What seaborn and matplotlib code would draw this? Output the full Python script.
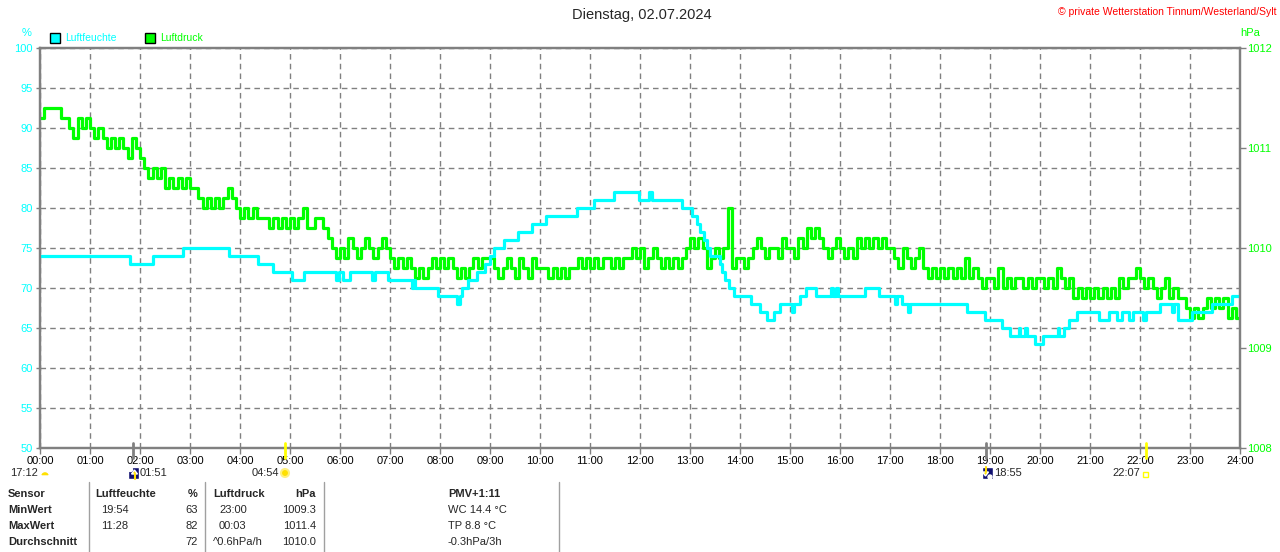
import numpy as np
import matplotlib
matplotlib.use("Agg")
import matplotlib.pyplot as plt
import seaborn as sns
from matplotlib.patches import Rectangle, Wedge, Circle, Polygon
from matplotlib.lines import Line2D
from matplotlib.transforms import IdentityTransform

sns.set_style("white")
plt.rcParams['font.family'] = ['Liberation Sans', 'DejaVu Sans']

CYAN = "#00FFFF"
GREEN = "#00FF00"
GRAY = "#808080"
NAVY = "#101070"

# Luftfeuchte (%) as step changes: hour of change, new value
hum_hours = [0.00, 1.80, 2.25, 2.85, 3.77, 4.36, 4.65, 5.04, 5.27, 5.92,
             5.98, 6.05, 6.20, 6.63, 6.70, 6.96, 7.43, 7.47, 7.50, 7.96,
             8.33, 8.40, 8.45, 8.55, 8.73, 8.90, 9.00, 9.07, 9.27, 9.55,
             9.83, 10.12, 10.74, 11.07, 11.47, 11.97, 12.18, 12.24, 12.83, 13.03,
             13.13, 13.20, 13.27, 13.33, 13.40, 13.60, 13.63, 13.70, 13.77, 13.87,
             14.21, 14.40, 14.53, 14.67, 14.80, 15.03, 15.07, 15.20, 15.32, 15.52,
             15.82, 15.86, 15.92, 15.96, 16.50, 16.77, 17.10, 17.13, 17.23, 17.35,
             17.40, 18.53, 18.90, 19.23, 19.40, 19.57, 19.60, 19.70, 19.73, 19.90,
             20.05, 20.35, 20.38, 20.47, 20.57, 20.73, 21.17, 21.37, 21.53, 21.63,
             21.78, 21.85, 22.05, 22.12, 22.40, 22.63, 22.67, 22.76, 23.03, 23.43,
             23.83, 24.00]
hum_values = [74, 73, 74, 75, 74, 73, 72, 71, 72, 71,
              72, 71, 72, 71, 72, 71, 70, 71, 70, 69,
              68, 69, 70, 71, 72, 73, 74, 75, 76, 77,
              78, 79, 80, 81, 82, 81, 82, 81, 80, 79,
              78, 77, 76, 75, 74, 73, 72, 71, 70, 69,
              68, 67, 66, 67, 68, 67, 68, 69, 70, 69,
              70, 69, 70, 69, 70, 69, 68, 69, 68, 67,
              68, 67, 66, 65, 64, 65, 64, 65, 64, 63,
              64, 65, 64, 65, 66, 67, 66, 67, 66, 67,
              66, 67, 66, 67, 68, 67, 68, 66, 67, 68,
              69, 69]

# Luftdruck (hPa), every 5 minutes, one row per hour
pressure_rows = [
    [1011.3, 1011.4, 1011.4, 1011.4, 1011.4, 1011.3, 1011.3, 1011.2, 1011.1, 1011.3, 1011.2, 1011.3],
    [1011.2, 1011.1, 1011.2, 1011.1, 1011.0, 1011.1, 1011.0, 1011.1, 1011.0, 1010.9, 1011.1, 1011.0],
    [1010.9, 1010.8, 1010.7, 1010.8, 1010.7, 1010.8, 1010.6, 1010.7, 1010.6, 1010.7, 1010.6, 1010.7],
    [1010.6, 1010.6, 1010.5, 1010.4, 1010.5, 1010.4, 1010.5, 1010.4, 1010.5, 1010.6, 1010.5, 1010.4],
    [1010.3, 1010.4, 1010.3, 1010.4, 1010.3, 1010.3, 1010.3, 1010.2, 1010.3, 1010.2, 1010.3, 1010.2],
    [1010.3, 1010.2, 1010.3, 1010.4, 1010.2, 1010.2, 1010.3, 1010.3, 1010.2, 1010.1, 1010.0, 1009.9],
    [1010.0, 1009.9, 1010.1, 1010.0, 1009.9, 1010.0, 1010.1, 1010.0, 1009.9, 1010.0, 1010.1, 1010.0],
    [1009.9, 1009.8, 1009.9, 1009.8, 1009.9, 1009.8, 1009.7, 1009.8, 1009.7, 1009.8, 1009.9, 1009.8],
    [1009.9, 1009.8, 1009.9, 1009.8, 1009.7, 1009.8, 1009.7, 1009.8, 1009.9, 1009.8, 1009.9, 1009.9],
    [1009.9, 1009.8, 1009.7, 1009.8, 1009.9, 1009.8, 1009.7, 1009.9, 1009.8, 1009.7, 1009.9, 1009.8],
    [1009.8, 1009.8, 1009.7, 1009.8, 1009.7, 1009.8, 1009.7, 1009.8, 1009.8, 1009.9, 1009.8, 1009.9],
    [1009.8, 1009.9, 1009.8, 1009.9, 1009.9, 1009.8, 1009.9, 1009.8, 1009.9, 1009.9, 1010.0, 1009.9],
    [1010.0, 1009.8, 1009.9, 1010.0, 1009.9, 1009.8, 1009.9, 1009.8, 1009.9, 1009.8, 1009.9, 1010.0],
    [1010.1, 1010.0, 1010.1, 1010.0, 1009.8, 1009.9, 1010.0, 1009.9, 1010.0, 1010.4, 1009.8, 1009.9],
    [1009.9, 1009.8, 1009.9, 1010.0, 1010.1, 1010.0, 1009.9, 1010.0, 1010.0, 1009.9, 1010.1, 1010.0],
    [1010.0, 1009.9, 1010.1, 1010.0, 1010.2, 1010.1, 1010.2, 1010.1, 1010.0, 1009.9, 1010.0, 1010.1],
    [1010.0, 1009.9, 1010.0, 1009.9, 1010.1, 1010.0, 1010.1, 1010.0, 1010.1, 1010.0, 1010.1, 1010.0],
    [1010.0, 1009.9, 1009.8, 1010.0, 1009.9, 1009.8, 1009.9, 1010.0, 1009.8, 1009.7, 1009.8, 1009.7],
    [1009.8, 1009.7, 1009.8, 1009.7, 1009.8, 1009.7, 1009.9, 1009.7, 1009.8, 1009.7, 1009.6, 1009.7],
    [1009.7, 1009.6, 1009.8, 1009.6, 1009.7, 1009.6, 1009.7, 1009.7, 1009.6, 1009.7, 1009.6, 1009.7],
    [1009.7, 1009.6, 1009.7, 1009.6, 1009.8, 1009.7, 1009.6, 1009.7, 1009.5, 1009.6, 1009.5, 1009.6],
    [1009.5, 1009.6, 1009.5, 1009.6, 1009.5, 1009.6, 1009.5, 1009.7, 1009.6, 1009.7, 1009.7, 1009.8],
    [1009.7, 1009.6, 1009.7, 1009.6, 1009.5, 1009.6, 1009.7, 1009.5, 1009.6, 1009.5, 1009.5, 1009.4],
    [1009.3, 1009.4, 1009.3, 1009.4, 1009.5, 1009.4, 1009.5, 1009.4, 1009.5, 1009.3, 1009.4, 1009.3],
]
pressure_end = 1009.4

hour_labels = [f"{h:02d}:00" for h in range(25)]
hum_ticks = list(range(50, 101, 5))
press_ticks = [1008, 1009, 1010, 1011, 1012]

# astro events below the axis: (time label, hour, tick colour)
astro_events = [("01:51", 1 + 51 / 60, GRAY), ("04:54", 4 + 54 / 60, "#FFFF00"),
                ("18:55", 18 + 55 / 60, GRAY), ("22:07", 22 + 7 / 60, "#FFFF00")]

table_rows = [
    ("MinWert", "19:54", "63", "23:00", "1009.3", "WC 14.4 °C"),
    ("MaxWert", "11:28", "82", "00:03", "1011.4", "TP 8.8 °C"),
    ("Durchschnitt", "", "72", "^0.6hPa/h", "1010.0", "-0.3hPa/3h"),
]

pressure = [v for row in pressure_rows for v in row] + [pressure_end]
press_hours = np.arange(len(pressure)) / 12

W, H = 1280, 552
fig = plt.figure(figsize=(W / 100, H / 100), dpi=100)
fig.patch.set_facecolor("white")


def fx(px):
    return px / W


def fy(py):
    return 1 - py / H


ax = fig.add_axes([fx(40), fy(448), 1200 / W, 400 / H])
ax2 = ax.twinx()

ax.set_xlim(0, 24)
ax.set_ylim(50, 100)
ax2.set_ylim(1008, 1012)

sns.lineplot(x=press_hours, y=pressure, ax=ax2, color=GREEN, lw=2.3,
             drawstyle="steps-post", estimator=None, sort=False)
sns.lineplot(x=hum_hours, y=hum_values, ax=ax2, color=CYAN, lw=2.3,
             drawstyle="steps-post", estimator=None, sort=False,
             transform=ax.transData)
ax2.set_ylim(1008, 1012)
ax2.set_xlim(0, 24)

ax.set_xticks(range(25))
ax.set_xticklabels(hour_labels)
ax.set_yticks(hum_ticks)
ax2.set_yticks(press_ticks)
ax.grid(True, color=GRAY, linestyle=(0, (4, 3)), linewidth=1)
ax2.grid(False)
for a in (ax, ax2):
    a.set_xlabel("")
    a.set_ylabel("")
    for s in a.spines.values():
        s.set_color(GRAY)
        s.set_linewidth(1.6)

ax.tick_params(axis="y", color=GRAY, labelcolor=CYAN, length=3, width=1, pad=2, labelsize=8, left=True)
ax.tick_params(axis="x", color=GRAY, labelcolor="black", length=4, width=1, pad=2, labelsize=8, bottom=True)
ax2.tick_params(axis="y", color=GRAY, labelcolor=GREEN, length=4, width=1, pad=1, labelsize=8, right=True)

# titles
fig.text(fx(642), fy(15), "Dienstag, 02.07.2024", ha="center", va="center", fontsize=10.5)
fig.text(fx(1276), fy(12), "© private Wetterstation Tinnum/Westerland/Sylt",
         ha="right", va="center", fontsize=7.5, color="red")
fig.text(fx(27), fy(33), "%", ha="center", va="center", fontsize=8, color=CYAN)
fig.text(fx(1250), fy(33), "hPa", ha="center", va="center", fontsize=8, color=GREEN)

# legend
ident = IdentityTransform()
for x0, col, name in [(50, CYAN, "Luftfeuchte"), (145, GREEN, "Luftdruck")]:
    fig.add_artist(Rectangle((x0, H - 43), 10, 10, facecolor=col, edgecolor="black",
                             linewidth=1, transform=ident))
    fig.text(fx(x0 + 15), fy(38), name, ha="left", va="center", fontsize=7.5, color=col)

# astro markers under the time axis
for label, hr, col in astro_events:
    px = 40 + hr * 50
    fig.add_artist(Line2D([px, px], [H - 443, H - 458], color=col, lw=2, transform=ident))

fig.text(fx(38), fy(473), "17:12", ha="right", va="center", fontsize=8)
fig.add_artist(Wedge((45, H - 476), 4.5, 0, 180, facecolor="#FFE000", transform=ident))

fig.add_artist(Rectangle((128, H - 479), 11, 12, facecolor=NAVY, transform=ident))
fig.add_artist(Circle((130.5, H - 469.5), 2, facecolor="white", transform=ident))
fig.add_artist(Polygon([(131.5, H - 474), (134.5, H - 470), (137.5, H - 474)],
                       facecolor="#FFE000", transform=ident))
fig.add_artist(Line2D([134.5, 134.5], [H - 474, H - 479], color="#FFE000", lw=1.5, transform=ident))
fig.text(fx(140), fy(473), "01:51", ha="left", va="center", fontsize=8)

fig.text(fx(279), fy(473), "04:54", ha="right", va="center", fontsize=8)
fig.add_artist(Circle((285, H - 473), 4, facecolor="#FFE000", edgecolor="#FFF080",
                      linewidth=1.5, transform=ident))

fig.add_artist(Rectangle((982, H - 479), 11, 12, facecolor=NAVY, transform=ident))
fig.add_artist(Circle((990, H - 477), 2, facecolor="white", transform=ident))
fig.add_artist(Polygon([(982.5, H - 472), (985.5, H - 476), (988.5, H - 472)],
                       facecolor="#FFE000", transform=ident))
fig.add_artist(Line2D([985.5, 985.5], [H - 467, H - 472], color="#FFE000", lw=1.5, transform=ident))
fig.text(fx(994), fy(473), "18:55", ha="left", va="center", fontsize=8)

fig.text(fx(1140), fy(473), "22:07", ha="right", va="center", fontsize=8)
fig.add_artist(Rectangle((1143, H - 477), 5, 5, facecolor="none", edgecolor="#FFFF00",
                         linewidth=1, transform=ident))

# statistics table
for xs in (89, 205, 324, 559):
    fig.add_artist(Line2D([xs, xs], [H - 482, 0], color="#A0A0A0", lw=1, transform=ident))

rows_y = [494, 510, 526, 542]
fig.text(fx(8), fy(rows_y[0]), "Sensor", ha="left", va="center", fontsize=8, weight="bold")
fig.text(fx(95), fy(rows_y[0]), "Luftfeuchte", ha="left", va="center", fontsize=8, weight="bold")
fig.text(fx(198), fy(rows_y[0]), "%", ha="right", va="center", fontsize=8, weight="bold")
fig.text(fx(213), fy(rows_y[0]), "Luftdruck", ha="left", va="center", fontsize=8, weight="bold")
fig.text(fx(316), fy(rows_y[0]), "hPa", ha="right", va="center", fontsize=8, weight="bold")
fig.text(fx(448), fy(rows_y[0]), "PMV+1:11", ha="left", va="center", fontsize=8, weight="bold")

for (name, t_h, v_h, t_p, v_p, extra), y in zip(table_rows, rows_y[1:]):
    fig.text(fx(8), fy(y), name, ha="left", va="center", fontsize=8, weight="bold")
    fig.text(fx(101), fy(y), t_h, ha="left", va="center", fontsize=8)
    fig.text(fx(198), fy(y), v_h, ha="right", va="center", fontsize=8)
    x_tp = 213 if t_p.startswith("^") else 219
    fig.text(fx(x_tp), fy(y), t_p, ha="left", va="center", fontsize=8)
    fig.text(fx(316), fy(y), v_p, ha="right", va="center", fontsize=8)
    fig.text(fx(448), fy(y), extra, ha="left", va="center", fontsize=8)

fig.savefig("out.png", dpi=100)
